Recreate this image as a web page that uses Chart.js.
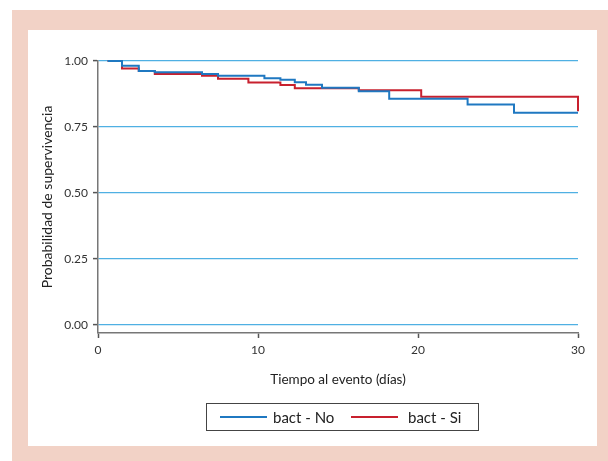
<!DOCTYPE html>
<html>
<head>
<meta charset="utf-8">
<script src="https://cdn.jsdelivr.net/npm/chart.js@4/dist/chart.umd.min.js"></script>
<style>
  body { margin: 0; width: 608px; height: 461px; background: #fff; position: relative; overflow: hidden; font-family: Lato, "Noto Sans", sans-serif; }
  #frame { position: absolute; left: 12px; top: 10px; width: 596px; height: 451px; background: #f2d2c6; }
  #panel { position: absolute; left: 28px; top: 30px; width: 569px; height: 416px; background: #fff; }
  #graph { position: absolute; left: 0; top: 0; }
  #legend { position: absolute; left: 206px; top: 403px; width: 271px; height: 26px; border: 1px solid #444; color: #222; font-size: 15px; }
  .item { position: absolute; top: 4px; line-height: 18px; }
  .swatch { position: absolute; top: 12px; height: 2px; width: 47px; }
</style>
</head>
<body>
<div id="frame"></div>
<div id="panel"></div>
<canvas id="graph" width="608" height="461"></canvas>
<div id="legend">
  <div class="swatch" style="left:13px;background:#1f78c1"></div>
  <div class="item" style="left:66px">bact - No</div>
  <div class="swatch" style="left:144px;background:#c8202e"></div>
  <div class="item" style="left:201px">bact - Si</div>
</div>
<script>
// time (days) and survival probability for each group
const timesNo = [0.6, 1.5, 2.55, 3.55, 6.5, 7.5, 10.4, 11.4, 12.3, 13.0, 14.0, 16.3, 18.2, 23.1, 26.0, 30];
const survNo  = [1.0, 0.982, 0.962, 0.957, 0.951, 0.944, 0.935, 0.929, 0.92, 0.91, 0.899, 0.885, 0.857, 0.835, 0.804, 0.804];
const timesSi = [0.6, 1.5, 2.55, 3.55, 6.5, 7.5, 9.4, 11.4, 12.3, 16.3, 20.2, 30, 30];
const survSi  = [1.0, 0.972, 0.962, 0.951, 0.944, 0.933, 0.919, 0.909, 0.897, 0.889, 0.865, 0.865, 0.81];

const xTicks = [0, 10, 20, 30];
const yTicks = [0, 0.25, 0.5, 0.75, 1];

const FONT = "Lato, 'Noto Sans', sans-serif";

function toPoints(times, surv) {
    return times.map((t, i) => ({x: t, y: surv[i]}));
}

var chart = new Chart("graph", {
    type: "line",
    data: {
        datasets: [{
            label: "bact - No",
            data: toPoints(timesNo, survNo),
            borderColor: "#1f78c1",
            borderWidth: 2,
            pointRadius: 0,
            stepped: true,
            fill: false,
            clip: 6
        }, {
            label: "bact - Si",
            data: toPoints(timesSi, survSi),
            borderColor: "#c8202e",
            borderWidth: 2,
            pointRadius: 0,
            stepped: true,
            fill: false,
            clip: 6
        }]
    },
    options: {
        responsive: false,
        animation: false,
        devicePixelRatio: 1,
        layout: {padding: {left: 30, right: 30, top: 61, bottom: 68}},
        plugins: {legend: {display: false}, tooltip: {enabled: false}},
        scales: {
            x: {
                type: "linear",
                min: 0,
                max: 30,
                afterBuildTicks: axis => { axis.ticks = xTicks.map(v => ({value: v})); },
                afterFit: axis => { axis.height = 60; },
                grid: {drawOnChartArea: false, tickLength: 5, tickColor: "#555", tickWidth: 1.5},
                border: {color: "#777", width: 1.5},
                ticks: {color: "#333", padding: 5, font: {family: FONT, size: 12}, maxRotation: 0},
                title: {display: true, text: "Tiempo al evento (días)", color: "#222",
                        font: {family: FONT, size: 13.5}, padding: {top: 0, bottom: 5}}
            },
            y: {
                min: -0.03,
                max: 1,
                afterBuildTicks: axis => { axis.ticks = yTicks.map(v => ({value: v})); },
                afterFit: axis => { axis.width = 68; },
                grid: {color: "#4fb0e3", lineWidth: 1.2, tickLength: 5, tickColor: "#555", tickWidth: 1.5},
                border: {color: "#777", width: 1.5},
                ticks: {color: "#333", padding: 5, font: {family: FONT, size: 12},
                        callback: v => v.toFixed(2)},
                title: {display: true, text: "Probabilidad de supervivencia", color: "#222",
                        font: {family: FONT, size: 14}, padding: {top: 9, bottom: 0}}
            }
        }
    }
});
</script>
</body>
</html>
